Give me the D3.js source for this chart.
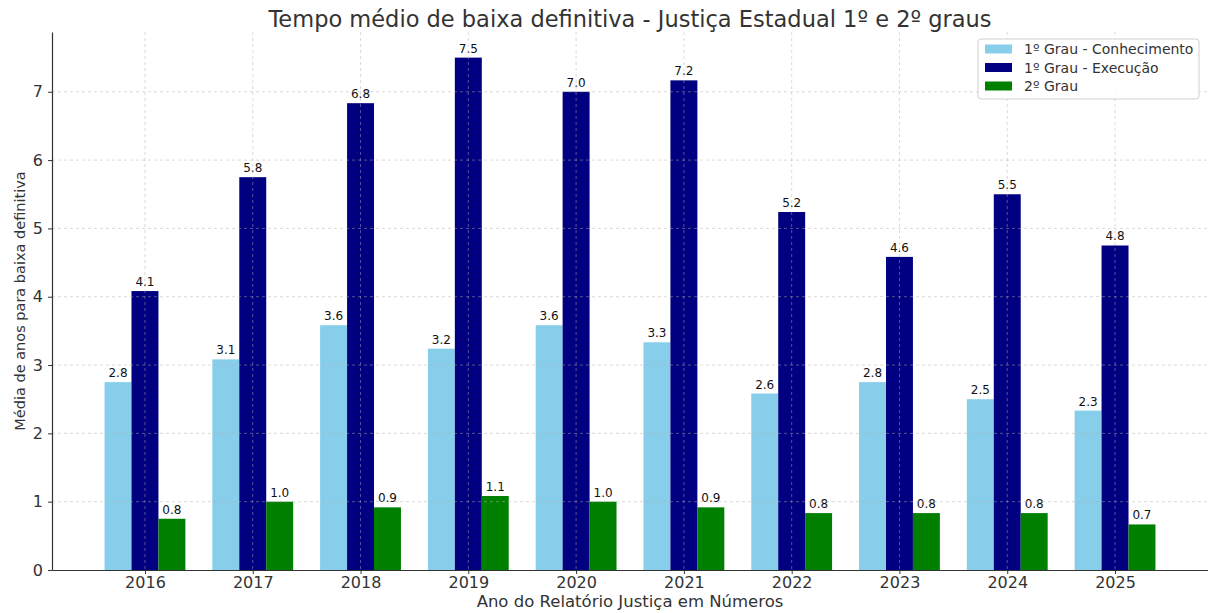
<!DOCTYPE html>
<html>
<head>
<meta charset="utf-8">
<script src="https://cdn.jsdelivr.net/npm/d3@7"></script>
<style>
  body { margin: 0; background: #fff; }
  svg text { font-family: "DejaVu Sans", sans-serif; }
</style>
</head>
<body>
<svg id="chart" width="1208" height="613"></svg>
<script>
const years = ["2016", "2017", "2018", "2019", "2020", "2021", "2022", "2023", "2024", "2025"];
const conhecimento = [2.75, 3.083, 3.583, 3.24, 3.583, 3.333, 2.583, 2.75, 2.5, 2.333];
const execucao = [4.083, 5.75, 6.833, 7.5, 7.0, 7.167, 5.24, 4.583, 5.5, 4.75];
const segundoGrau = [0.75, 1.0, 0.917, 1.083, 1.0, 0.917, 0.833, 0.833, 0.833, 0.667];
const seriesNames = ["1º Grau - Conhecimento", "1º Grau - Execução", "2º Grau"];
const yTicks = [0, 1, 2, 3, 4, 5, 6, 7];

const colors = ["#87ceeb", "#000080", "#008000"];
const series = [conhecimento, execucao, segundoGrau];

const svg = d3.select("#chart");
const plot = { left: 52, right: 1208, top: 32, bottom: 570 };
const barW = 0.25;

// x is a continuous index scale so bar offsets work like in matplotlib
const x = d3.scaleLinear().domain([-0.8625, years.length - 1 + 0.8625]).range([plot.left, plot.right]);
const y = d3.scaleLinear().domain([0, 7.875]).range([plot.bottom, plot.top]);

// bars
series.forEach((vals, s) => {
  const off = (s - 1) * barW;
  const g = svg.append("g");
  g.selectAll("rect")
    .data(vals)
    .enter()
    .append("rect")
      .attr("x", (d, i) => x(i + off - barW / 2))
      .attr("y", d => y(d))
      .attr("width", x(barW) - x(0))
      .attr("height", d => y(0) - y(d))
      .attr("fill", colors[s]);
  g.selectAll("text")
    .data(vals)
    .enter()
    .append("text")
      .attr("x", (d, i) => x(i + off))
      .attr("y", d => y(d) - 5)
      .attr("text-anchor", "middle")
      .attr("font-size", 12)
      .attr("fill", "#111")
      .text(d => d.toFixed(1));
});

// grid on top of the bars
const grid = svg.append("g")
  .attr("stroke", "#b0b0b0")
  .attr("stroke-opacity", 0.6)
  .attr("stroke-dasharray", "3,3")
  .attr("stroke-width", 0.8);
grid.selectAll(".gy").data(yTicks.slice(1)).enter().append("line")
  .attr("x1", plot.left).attr("x2", plot.right)
  .attr("y1", d => y(d)).attr("y2", d => y(d));
grid.selectAll(".gx").data(years).enter().append("line")
  .attr("x1", (d, i) => x(i)).attr("x2", (d, i) => x(i))
  .attr("y1", plot.top).attr("y2", plot.bottom);

// axes
const xAxis = d3.axisBottom(x)
  .tickValues(d3.range(years.length))
  .tickFormat(i => years[i])
  .tickSize(4).tickSizeOuter(0);
const xg = svg.append("g").attr("transform", `translate(0,${plot.bottom})`).call(xAxis);
xg.select(".domain").attr("stroke", "#333").attr("stroke-width", 1.2);
xg.selectAll(".tick line").attr("stroke", "#333");
xg.selectAll("text").attr("font-size", 16).attr("fill", "#333");

const yAxis = d3.axisLeft(y).tickValues(yTicks).tickSize(4).tickSizeOuter(0);
const yg = svg.append("g").attr("transform", `translate(${plot.left},0)`).call(yAxis);
yg.select(".domain").attr("stroke", "#333").attr("stroke-width", 1.2);
yg.selectAll(".tick line").attr("stroke", "#333");
yg.selectAll("text").attr("font-size", 16).attr("fill", "#333").attr("x", -9);

// titles
svg.append("text")
  .attr("x", (plot.left + plot.right) / 2).attr("y", 27)
  .attr("text-anchor", "middle").attr("font-size", 22.5).attr("fill", "#333")
  .text("Tempo médio de baixa definitiva - Justiça Estadual 1º e 2º graus");
svg.append("text")
  .attr("x", (plot.left + plot.right) / 2).attr("y", 607)
  .attr("text-anchor", "middle").attr("font-size", 16.5).attr("fill", "#333")
  .text("Ano do Relatório Justiça em Números");
svg.append("text")
  .attr("transform", `translate(25,301) rotate(-90)`)
  .attr("text-anchor", "middle").attr("font-size", 14.5).attr("fill", "#333")
  .text("Média de anos para baixa definitiva");

// legend
const lg = svg.append("g").attr("transform", "translate(978,39)");
lg.append("rect")
  .attr("width", 221).attr("height", 60).attr("rx", 3)
  .attr("fill", "#fff").attr("fill-opacity", 0.85)
  .attr("stroke", "#d0d0d0");
seriesNames.forEach((name, i) => {
  const row = lg.append("g").attr("transform", `translate(7,${5.5 + i * 18.5})`);
  row.append("rect").attr("width", 27).attr("height", 9).attr("fill", colors[i]);
  row.append("text").attr("x", 39).attr("y", 9.5)
    .attr("font-size", 14).attr("fill", "#333").text(name);
});
</script>
</body>
</html>
